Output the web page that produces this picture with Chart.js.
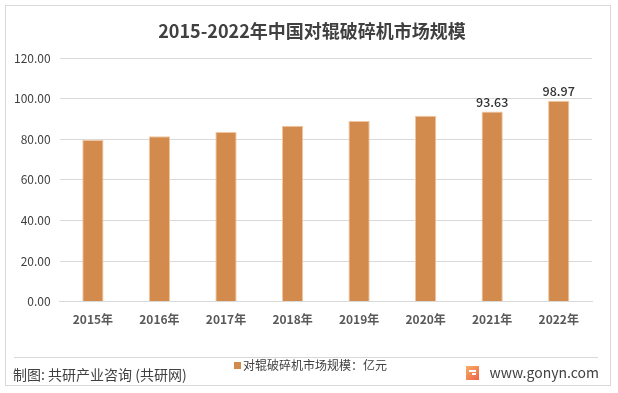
<!DOCTYPE html>
<html><head><meta charset="utf-8">
<script src="https://cdn.jsdelivr.net/npm/chart.js@4/dist/chart.umd.min.js"></script>
<style>html,body{margin:0;padding:0;background:#fff}#wrap{width:618px;height:393px;position:relative}</style>
</head><body><div id="wrap"><canvas id="c" width="618" height="393"></canvas></div>
<script>
const categories = ['2015年','2016年','2017年','2018年','2019年','2020年','2021年','2022年'];
const marketSize = [79.6, 81.5, 83.6, 86.6, 89.0, 91.5, 93.63, 98.97];
const labelledIndexes = [6, 7];
const yTicks = [0, 20, 40, 60, 80, 100, 120];
const seriesName = '对辊破碎机市场规模：亿元';
const titleText = '2015-2022年中国对辊破碎机市场规模';
const sourceText = '制图: 共研产业咨询 (共研网)';
const siteText = 'www.gonyn.com';

const FONT = '"Noto Sans CJK SC", "Noto Sans", sans-serif';
const BAR = '#D38B4D';

const deco = {
  id: 'deco',
  beforeDraw(chart) {
    const ctx = chart.ctx;
    ctx.save();
    ctx.fillStyle = '#fff';
    ctx.fillRect(0, 0, 618, 393);
    ctx.strokeStyle = '#d9d9d9';
    ctx.lineWidth = 1;
    ctx.strokeRect(5.5, 5.5, 605, 380);
    ctx.beginPath();
    ctx.moveTo(14, 357.5); ctx.lineTo(598, 357.5);
    ctx.stroke();
    ctx.restore();
  },
  afterDraw(chart) {
    const ctx = chart.ctx;
    ctx.save();
    ctx.fillStyle = '#404040';
    ctx.font = 'bold 18px ' + FONT;
    ctx.textAlign = 'center'; ctx.textBaseline = 'middle';
    ctx.fillText(titleText, 312, 31);
    const meta = chart.getDatasetMeta(0);
    ctx.font = '500 12.5px ' + FONT;
    ctx.fillStyle = '#333333';
    ctx.textBaseline = 'bottom';
    labelledIndexes.forEach(i => {
      const el = meta.data[i];
      ctx.fillText(marketSize[i].toFixed(2), el.x, el.y - 3);
    });
    ctx.fillStyle = BAR;
    ctx.fillRect(234, 362, 7, 7);
    ctx.fillStyle = '#404040';
    ctx.font = '12px ' + FONT;
    ctx.textAlign = 'left'; ctx.textBaseline = 'middle';
    ctx.fillText(seriesName, 243, 365);
    ctx.font = '14px ' + FONT;
    ctx.fillText(sourceText, 13, 375);
    ctx.font = '14px ' + FONT;
    ctx.textAlign = 'right';
    ctx.fillText(siteText, 599, 373);
    const g = ctx.createLinearGradient(465, 366, 478, 380);
    g.addColorStop(0, '#F7B267'); g.addColorStop(1, '#F0644A');
    ctx.fillStyle = g;
    ctx.fillRect(466, 366, 13, 14);
    ctx.fillStyle = '#fff';
    ctx.fillRect(469, 370, 7, 2);
    ctx.fillRect(472, 373, 4, 2);
    ctx.restore();
  }
};

new Chart(document.getElementById('c'), {
  type: 'bar',
  data: {
    labels: categories,
    datasets: [{
      label: seriesName,
      data: marketSize,
      backgroundColor: BAR,
      borderColor: '#F2C6A0',
      borderWidth: 1,
      categoryPercentage: 1,
      barPercentage: 0.32
    }]
  },
  options: {
    responsive: false,
    animation: false,
    devicePixelRatio: 1,
    layout: { padding: { top: 58, left: 5, right: 26, bottom: 55 } },
    plugins: { legend: { display: false }, title: { display: false }, tooltip: { enabled: false } },
    scales: {
      x: {
        grid: { display: false, drawTicks: false },
        border: { display: true, color: '#d9d9d9' },
        ticks: { color: '#595959', font: { family: FONT, size: 12, weight: 'bold' }, padding: 11 }
      },
      y: {
        min: 0, max: 120,
        afterBuildTicks(axis) { axis.ticks = yTicks.map(v => ({ value: v })); },
        grid: { color: '#d9d9d9', drawTicks: false },
        border: { display: false },
        ticks: { color: '#404040', font: { family: FONT, size: 12 }, padding: 9,
                 callback: v => Number(v).toFixed(2) }
      }
    }
  },
  plugins: [deco]
});
</script></body></html>
